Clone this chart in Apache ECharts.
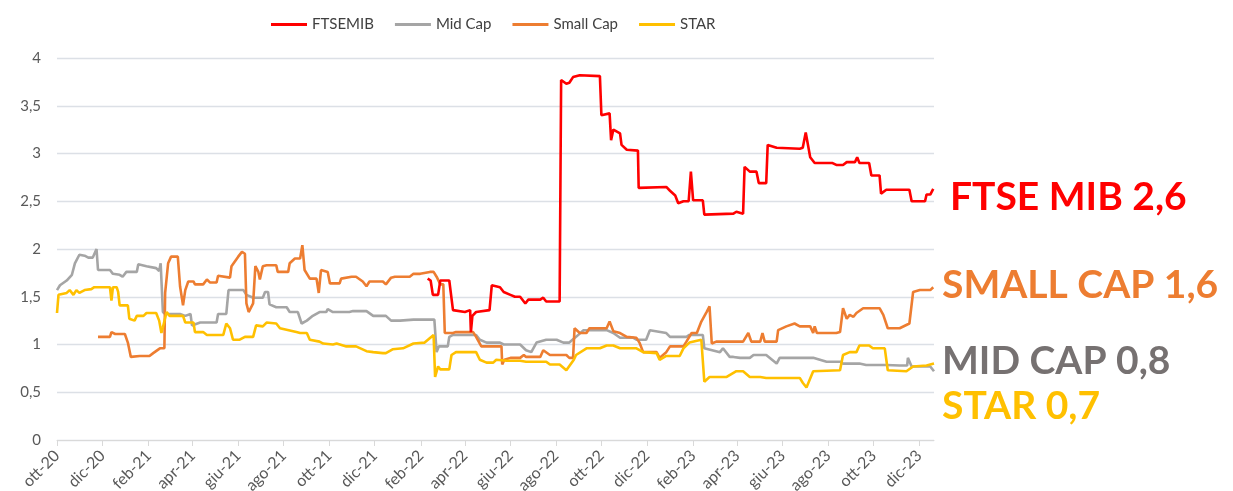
<!DOCTYPE html>
<html>
<head>
<meta charset="utf-8">
<script src="https://cdn.jsdelivr.net/npm/echarts@6/dist/echarts.min.js"></script>
<style>
  html, body { margin: 0; padding: 0; background: #fff; }
  #chart { width: 1233px; height: 491px; }
</style>
</head>
<body>
<div id="chart"></div>
<script>
// dati (P/E relativo per indice)
var ftseDates = ['2022-02-10','2022-02-14','2022-02-17','2022-02-24','2022-02-27','2022-03-11','2022-03-16','2022-04-01','2022-04-08','2022-04-09','2022-04-11','2022-04-16','2022-05-04','2022-05-07','2022-05-18','2022-05-23','2022-06-01','2022-06-07','2022-06-14','2022-06-21','2022-06-25','2022-07-11','2022-07-15','2022-07-19','2022-08-06','2022-08-08','2022-08-15','2022-08-19','2022-08-24','2022-09-02','2022-09-29','2022-10-01','2022-10-12','2022-10-14','2022-10-17','2022-10-26','2022-10-28','2022-11-04','2022-11-19','2022-11-20','2022-12-27','2023-01-01','2023-01-08','2023-01-12','2023-01-19','2023-01-26','2023-01-29','2023-02-01','2023-02-14','2023-02-16','2023-03-27','2023-03-31','2023-04-09','2023-04-11','2023-04-18','2023-04-27','2023-04-30','2023-05-10','2023-05-12','2023-05-24','2023-06-24','2023-06-28','2023-07-02','2023-07-08','2023-07-14','2023-08-07','2023-08-12','2023-08-21','2023-08-26','2023-09-06','2023-09-09','2023-09-12','2023-09-25','2023-09-28','2023-10-09','2023-10-11','2023-10-18','2023-11-18','2023-11-21','2023-12-09','2023-12-11','2023-12-16','2023-12-20'];
var ftseValues = [1.69,1.67,1.52,1.52,1.67,1.67,1.36,1.34,1.36,1.13,1.30,1.34,1.36,1.62,1.60,1.55,1.52,1.50,1.50,1.43,1.47,1.47,1.49,1.45,1.45,3.77,3.73,3.74,3.80,3.82,3.81,3.40,3.42,3.14,3.25,3.21,3.09,3.04,3.03,2.64,2.65,2.61,2.56,2.48,2.50,2.50,2.81,2.51,2.51,2.36,2.37,2.39,2.37,2.86,2.81,2.81,2.69,2.69,3.09,3.06,3.05,3.06,3.22,2.96,2.90,2.90,2.88,2.88,2.91,2.91,2.96,2.90,2.90,2.77,2.77,2.58,2.62,2.62,2.50,2.50,2.57,2.57,2.63];

var midDates = ['2020-10-01','2020-10-05','2020-10-14','2020-10-21','2020-10-25','2020-10-31','2020-11-07','2020-11-12','2020-11-18','2020-11-23','2020-11-25','2020-12-11','2020-12-15','2020-12-24','2020-12-28','2021-01-02','2021-01-16','2021-01-18','2021-01-29','2021-02-11','2021-02-15','2021-02-17','2021-02-20','2021-02-23','2021-03-15','2021-03-22','2021-03-29','2021-03-31','2021-04-11','2021-04-20','2021-05-03','2021-05-05','2021-05-16','2021-05-19','2021-06-08','2021-06-12','2021-06-21','2021-07-04','2021-07-07','2021-07-11','2021-07-13','2021-07-22','2021-08-05','2021-08-09','2021-08-20','2021-08-25','2021-09-01','2021-09-09','2021-09-18','2021-09-27','2021-09-29','2021-10-06','2021-10-28','2021-11-02','2021-11-20','2021-11-29','2021-12-16','2021-12-23','2022-01-04','2022-01-22','2022-02-14','2022-02-19','2022-02-22','2022-02-25','2022-03-09','2022-03-11','2022-03-16','2022-04-16','2022-04-21','2022-04-30','2022-05-18','2022-05-23','2022-06-14','2022-06-22','2022-06-29','2022-07-06','2022-07-19','2022-08-02','2022-08-11','2022-08-19','2022-08-28','2022-09-07','2022-10-08','2022-10-17','2022-10-26','2022-11-13','2022-11-17','2022-11-30','2022-12-05','2022-12-27','2023-01-01','2023-01-23','2023-01-27','2023-02-14','2023-02-16','2023-03-09','2023-03-13','2023-03-22','2023-03-27','2023-04-05','2023-04-18','2023-04-23','2023-05-10','2023-05-24','2023-05-28','2023-07-03','2023-07-12','2023-07-30','2023-08-17','2023-08-21','2023-09-12','2023-09-21','2023-10-18','2023-11-05','2023-11-15','2023-11-16','2023-11-21','2023-12-16','2023-12-21'];
var midValues = [1.57,1.62,1.67,1.73,1.85,1.94,1.93,1.91,1.91,2.00,1.78,1.78,1.74,1.73,1.71,1.76,1.76,1.84,1.82,1.80,1.77,1.85,1.34,1.32,1.32,1.30,1.32,1.20,1.23,1.23,1.23,1.32,1.32,1.57,1.57,1.52,1.49,1.49,1.55,1.55,1.42,1.39,1.39,1.34,1.34,1.22,1.25,1.30,1.34,1.34,1.37,1.34,1.34,1.35,1.35,1.30,1.30,1.25,1.25,1.26,1.26,1.26,0.92,0.98,0.98,1.08,1.10,1.10,1.05,1.02,1.02,1.00,1.00,0.94,0.92,1.02,1.05,1.05,1.02,1.02,1.08,1.15,1.15,1.12,1.07,1.07,1.05,1.05,1.15,1.12,1.08,1.08,1.10,1.10,0.96,0.92,0.96,0.87,0.87,0.86,0.86,0.89,0.89,0.80,0.86,0.86,0.86,0.82,0.82,0.80,0.80,0.785,0.785,0.78,0.78,0.86,0.77,0.77,0.72];

var smallDates = ['2020-11-25','2020-12-11','2020-12-13','2020-12-18','2020-12-31','2021-01-04','2021-01-08','2021-01-20','2021-02-02','2021-02-07','2021-02-16','2021-02-22','2021-02-23','2021-02-27','2021-03-03','2021-03-12','2021-03-15','2021-03-19','2021-03-22','2021-03-26','2021-04-02','2021-04-04','2021-04-15','2021-04-20','2021-04-24','2021-05-03','2021-05-05','2021-05-21','2021-05-23','2021-06-01','2021-06-06','2021-06-10','2021-06-12','2021-06-15','2021-06-21','2021-06-24','2021-06-28','2021-06-30','2021-07-04','2021-07-09','2021-07-22','2021-07-24','2021-08-07','2021-08-09','2021-08-16','2021-08-23','2021-08-26','2021-08-29','2021-09-05','2021-09-14','2021-09-17','2021-09-20','2021-09-29','2021-10-02','2021-10-15','2021-10-17','2021-10-31','2021-11-06','2021-11-15','2021-11-20','2021-11-24','2021-12-12','2021-12-16','2021-12-23','2021-12-28','2022-01-17','2022-01-22','2022-01-31','2022-02-13','2022-02-18','2022-02-22','2022-02-27','2022-03-03','2022-03-05','2022-03-16','2022-03-20','2022-04-12','2022-04-16','2022-04-23','2022-05-20','2022-05-21','2022-05-24','2022-06-01','2022-06-14','2022-06-19','2022-06-22','2022-07-11','2022-07-15','2022-07-24','2022-08-15','2022-08-19','2022-08-24','2022-08-26','2022-09-02','2022-09-11','2022-09-15','2022-10-08','2022-10-12','2022-10-17','2022-10-26','2022-11-04','2022-11-17','2022-11-21','2022-11-26','2022-12-14','2022-12-18','2022-12-27','2023-01-01','2023-01-19','2023-01-23','2023-01-30','2023-02-06','2023-02-12','2023-02-19','2023-02-23','2023-02-26','2023-03-04','2023-04-09','2023-04-16','2023-04-20','2023-05-02','2023-05-05','2023-05-08','2023-05-24','2023-05-26','2023-06-06','2023-06-17','2023-06-24','2023-07-08','2023-07-12','2023-07-14','2023-07-17','2023-08-12','2023-08-17','2023-08-21','2023-08-26','2023-08-30','2023-09-04','2023-09-08','2023-09-17','2023-10-09','2023-10-14','2023-10-20','2023-11-05','2023-11-07','2023-11-18','2023-11-23','2023-12-02','2023-12-16','2023-12-20'];
var smallValues = [1.08,1.08,1.13,1.11,1.11,1.02,0.87,0.88,0.88,0.91,0.96,0.96,1.54,1.85,1.92,1.92,1.61,1.41,1.57,1.66,1.66,1.63,1.63,1.68,1.65,1.65,1.72,1.70,1.82,1.92,1.97,1.95,1.43,1.34,1.43,1.82,1.76,1.68,1.82,1.83,1.83,1.76,1.76,1.85,1.90,1.90,2.04,1.78,1.69,1.69,1.54,1.78,1.76,1.64,1.64,1.69,1.71,1.71,1.66,1.61,1.66,1.66,1.63,1.70,1.71,1.71,1.74,1.74,1.76,1.76,1.71,1.63,1.63,1.12,1.12,1.13,1.13,1.08,0.98,0.98,0.79,0.84,0.86,0.86,0.89,0.87,0.87,0.94,0.89,0.89,0.86,0.86,1.17,1.12,1.12,1.17,1.17,1.24,1.14,1.12,1.08,1.07,1.02,0.92,0.92,0.86,0.92,0.98,0.98,1.03,1.12,1.12,1.24,1.34,1.40,1.01,1.03,1.03,1.12,1.03,1.03,1.12,1.03,1.03,1.15,1.19,1.22,1.19,1.19,1.12,1.19,1.12,1.12,1.13,1.38,1.27,1.31,1.29,1.33,1.38,1.38,1.31,1.17,1.17,1.15,1.22,1.55,1.57,1.57,1.60];

var starDates = ['2020-10-01','2020-10-03','2020-10-14','2020-10-18','2020-10-23','2020-10-27','2020-10-31','2020-11-07','2020-11-16','2020-11-20','2020-12-11','2020-12-13','2020-12-15','2020-12-20','2020-12-22','2020-12-24','2021-01-04','2021-01-06','2021-01-13','2021-01-16','2021-01-25','2021-01-29','2021-02-11','2021-02-15','2021-02-18','2021-02-20','2021-02-25','2021-03-01','2021-03-19','2021-03-22','2021-04-02','2021-04-04','2021-04-15','2021-04-20','2021-05-12','2021-05-16','2021-05-21','2021-05-25','2021-06-03','2021-06-10','2021-06-21','2021-06-25','2021-07-04','2021-07-09','2021-07-22','2021-07-27','2021-08-18','2021-08-23','2021-09-01','2021-09-05','2021-09-18','2021-09-23','2021-10-06','2021-10-11','2021-10-24','2021-11-06','2021-11-20','2021-11-29','2021-12-12','2021-12-16','2021-12-25','2022-01-08','2022-01-22','2022-02-06','2022-02-18','2022-02-20','2022-02-24','2022-02-27','2022-03-11','2022-03-14','2022-03-20','2022-04-16','2022-04-21','2022-04-30','2022-05-09','2022-05-13','2022-05-27','2022-06-14','2022-06-22','2022-07-19','2022-07-24','2022-08-06','2022-08-15','2022-08-25','2022-08-28','2022-09-11','2022-09-29','2022-10-08','2022-10-17','2022-10-26','2022-11-17','2022-11-26','2022-12-14','2022-12-18','2022-12-27','2023-01-14','2023-01-19','2023-01-27','2023-02-12','2023-02-14','2023-02-16','2023-02-23','2023-03-18','2023-03-31','2023-04-09','2023-04-18','2023-05-02','2023-05-10','2023-06-24','2023-06-28','2023-07-03','2023-07-12','2023-08-17','2023-08-21','2023-08-30','2023-09-08','2023-09-12','2023-09-25','2023-09-30','2023-10-16','2023-10-20','2023-11-14','2023-11-23','2023-12-11','2023-12-21'];
var starValues = [1.33,1.52,1.54,1.57,1.52,1.57,1.54,1.57,1.58,1.60,1.60,1.46,1.60,1.60,1.55,1.41,1.41,1.27,1.25,1.30,1.30,1.33,1.33,1.25,1.12,1.18,1.34,1.30,1.30,1.23,1.23,1.13,1.13,1.10,1.10,1.22,1.17,1.05,1.05,1.08,1.08,1.20,1.19,1.23,1.22,1.17,1.13,1.12,1.12,1.05,1.03,1.01,1.00,1.01,0.98,0.98,0.93,0.92,0.91,0.91,0.95,0.96,1.01,1.02,1.10,0.66,0.77,0.74,0.74,0.89,0.92,0.92,0.84,0.81,0.81,0.84,0.83,0.83,0.82,0.82,0.79,0.79,0.73,0.84,0.89,0.96,0.96,0.99,0.99,0.96,0.96,0.92,0.91,0.84,0.88,0.88,0.96,1.02,1.05,1.05,0.61,0.66,0.66,0.72,0.72,0.66,0.66,0.65,0.65,0.60,0.55,0.72,0.73,0.89,0.92,0.92,0.99,0.99,0.96,0.96,0.73,0.72,0.77,0.78,0.80];

var seriesNames = ['FTSEMIB', 'Mid Cap', 'Small Cap', 'STAR'];
var seriesColors = ['#FF0000', '#A5A5A5', '#ED7D31', '#FFC000'];
var yTicks = [0, 0.5, 1, 1.5, 2, 2.5, 3, 3.5, 4];
var mesi = ['gen','feb','mar','apr','mag','giu','lug','ago','set','ott','nov','dic'];

// etichette finali a destra
var endLabels = [
  { text: 'FTSE MIB 2,6', color: '#FF0000', x: 950, y: 203 },
  { text: 'SMALL CAP 1,6', color: '#ED7D31', x: 942, y: 291 },
  { text: 'MID CAP 0,8', color: '#767171', x: 942, y: 367 },
  { text: 'STAR 0,7', color: '#FFC000', x: 942, y: 412 }
];

// calendario giornaliero per l'asse x
var firstDay = Date.UTC(2020, 9, 1);
var lastDay = Date.UTC(2023, 11, 21);
var days = [];
for (var t = firstDay; t <= lastDay; t += 86400000) {
  days.push(new Date(t).toISOString().slice(0, 10));
}

function zip(dates, values) {
  return dates.map(function (d, i) { return [d, values[i]]; });
}

function isTickDay(idx, val) {
  return val.slice(8) === '01' && (+val.slice(5, 7)) % 2 === 0;
}

var chart = echarts.init(document.getElementById('chart'));
var allData = [zip(ftseDates, ftseValues), zip(midDates, midValues), zip(smallDates, smallValues), zip(starDates, starValues)];

var option = {
  animation: false,
  backgroundColor: '#ffffff',
  textStyle: { fontFamily: 'Lato, "Liberation Sans", sans-serif' },
  legend: {
    left: 266,
    top: 12,
    icon: 'rect',
    itemWidth: 36,
    itemHeight: 3,
    itemGap: 21,
    textStyle: { color: '#404040', fontSize: 15, fontFamily: 'Lato' },
    data: seriesNames
  },
  grid: { left: 57, right: 299, top: 58, bottom: 51, outerBoundsMode: 'none' },
  xAxis: {
    type: 'category',
    data: days,
    boundaryGap: false,
    axisLine: { lineStyle: { color: '#D9D9D9', width: 1 } },
    axisTick: { show: true, interval: isTickDay, length: 6, lineStyle: { color: '#D9D9D9' } },
    axisLabel: {
      interval: isTickDay,
      rotate: 45,
      margin: 13,
      color: '#595959',
      fontSize: 16,
      fontFamily: 'Lato',
      formatter: function (val) {
        return mesi[+val.slice(5, 7) - 1] + '-' + val.slice(2, 4);
      }
    },
    splitLine: { show: false }
  },
  yAxis: {
    type: 'value',
    min: yTicks[0],
    max: yTicks[yTicks.length - 1],
    interval: 0.5,
    axisLine: { show: false },
    axisTick: { show: false },
    axisLabel: {
      margin: 16,
      color: '#595959',
      fontSize: 15,
      fontFamily: 'Lato',
      formatter: function (v) { return String(v).replace('.', ','); }
    },
    splitLine: { lineStyle: { color: '#DCE0E6', width: 1.3 } }
  },
  series: seriesNames.map(function (name, i) {
    return {
      name: name,
      type: 'line',
      data: allData[i],
      symbol: 'none',
      color: seriesColors[i],
      lineStyle: { color: seriesColors[i], width: 2.6 },
      z: i === 0 ? 5 : 2
    };
  }),
  graphic: endLabels.map(function (l) {
    return {
      type: 'text',
      left: l.x,
      top: l.y - 25,
      style: {
        text: l.text,
        fill: l.color,
        font: 'bold 39px Lato, "Liberation Sans", sans-serif'
      }
    };
  })
};

chart.setOption(option);
</script>
</body>
</html>
